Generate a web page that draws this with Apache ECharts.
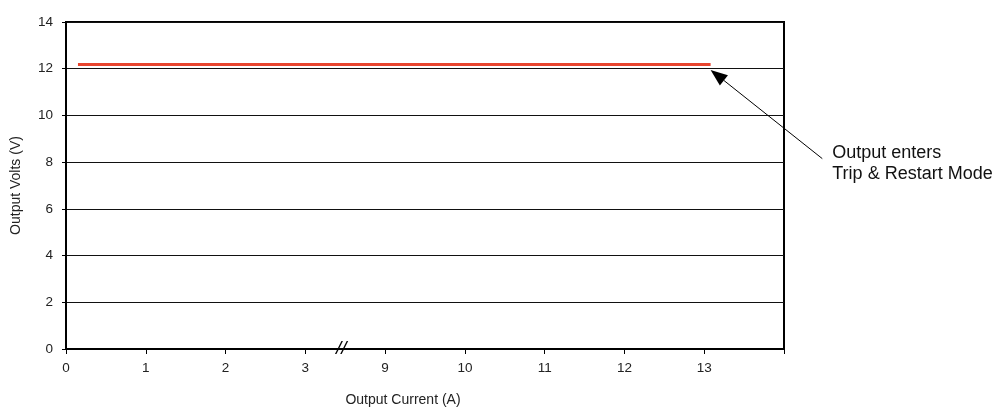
<!DOCTYPE html>
<html>
<head>
<meta charset="utf-8">
<script src="https://cdn.jsdelivr.net/npm/echarts@6/dist/echarts.min.js"></script>
<style>html,body{margin:0;padding:0;background:#fff;}#c{width:1001px;height:417px;}</style>
</head>
<body>
<div id="c"></div>
<script>
// Tick labels of the broken current axis (positions 0..9)
var xTickLabels = ['0', '1', '2', '3', '9', '10', '11', '12', '13', ''];
var yTicks = [0, 2, 4, 6, 8, 10, 12, 14];
// Output current (A) and output volts (V) of the curve
var currentA = [0.15, 13.08];
var voltsV = [12.18, 12.18];
// Axis break: 3 -> 9 collapsed
var breakFrom = 3, breakTo = 9;
var breakMarkAt = 3.45; // position on broken axis
// Annotation (arrow tail/tip in current/volts units)
var annotText = ['Output enters', 'Trip & Restart Mode'];
var arrowTip = [13.08, 11.95];
var arrowTail = [14.48, 8.15];

function toAxis(a) { return a <= breakFrom ? a : a - (breakTo - breakFrom) + 1; }

var chart = echarts.init(document.getElementById('c'), null, {renderer: 'canvas'});
var font = 'Liberation Sans, Arial, Helvetica, sans-serif';
var lineData = currentA.map(function (a, i) { return [toAxis(a), voltsV[i]]; });

chart.setOption({
  animation: false,
  backgroundColor: '#fff',
  grid: {left: 66, right: 217, top: 22, bottom: 68, show: true, borderColor: '#000', borderWidth: 2, backgroundColor: 'transparent'},
  xAxis: {
    type: 'value', min: 0, max: 9, interval: 1,
    name: 'Output Current (A)', nameLocation: 'middle', nameGap: 44,
    nameTextStyle: {fontFamily: font, fontSize: 14, color: '#222', padding: [0, 44, 0, 0]},
    axisLine: {show: true, onZero: false, lineStyle: {color: '#000', width: 2}},
    axisTick: {show: true, length: 5, lineStyle: {color: '#000', width: 1}},
    axisLabel: {fontFamily: font, fontSize: 13.5, color: '#222', margin: 12,
      formatter: function (v) { return xTickLabels[Math.round(v)] || ''; }},
    splitLine: {show: false}
  },
  yAxis: {
    type: 'value', min: 0, max: 14, interval: 2,
    name: 'Output Volts (V)', nameLocation: 'middle', nameGap: 43, nameRotate: 90,
    nameTextStyle: {fontFamily: font, fontSize: 14, color: '#222'},
    axisLine: {show: true, lineStyle: {color: '#000', width: 2}},
    axisTick: {show: true, length: 4, lineStyle: {color: '#000', width: 1}},
    axisLabel: {fontFamily: font, fontSize: 13.5, color: '#222', margin: 13},
    splitLine: {show: true, lineStyle: {color: '#111', width: 1}}
  },
  series: [{
    type: 'line',
    data: lineData,
    symbol: 'none',
    lineStyle: {color: '#e8442e', width: 3},
    z: 5,
    markPoint: {
      symbol: 'circle', symbolSize: 0,
      data: [{coord: [breakMarkAt, 0]}],
      label: {show: true, position: 'inside', formatter: '//', fontFamily: font, fontStyle: 'italic', fontSize: 19, color: '#000', fontWeight: 'normal'}
    }
  }]
});

function drawAnnot() {
  var tip = chart.convertToPixel({gridIndex: 0}, [toAxis(arrowTip[0]), arrowTip[1]]);
  var tail = chart.convertToPixel({gridIndex: 0}, [toAxis(arrowTail[0]), arrowTail[1]]);
  var dx = tip[0] - tail[0], dy = tip[1] - tail[1];
  var len = Math.sqrt(dx * dx + dy * dy);
  var ux = dx / len, uy = dy / len;
  var hl = 17, hw = 6.5;
  var bx = tip[0] - ux * hl, by = tip[1] - uy * hl;
  chart.setOption({
    graphic: [
      {type: 'line', shape: {x1: tail[0], y1: tail[1], x2: bx, y2: by}, style: {stroke: '#000', lineWidth: 1}, z: 10},
      {type: 'polygon', shape: {points: [[tip[0], tip[1]], [bx - uy * hw, by + ux * hw], [bx + uy * hw, by - ux * hw]]}, style: {fill: '#000'}, z: 10},
      {type: 'text', x: tail[0] + 10, y: tail[1] - 16,
        style: {text: annotText.join('\n'), fontFamily: font, fontSize: 18, lineHeight: 21, fill: '#111', textVerticalAlign: 'top'}, z: 10}
    ]
  });
}
drawAnnot();
</script>
</body>
</html>
